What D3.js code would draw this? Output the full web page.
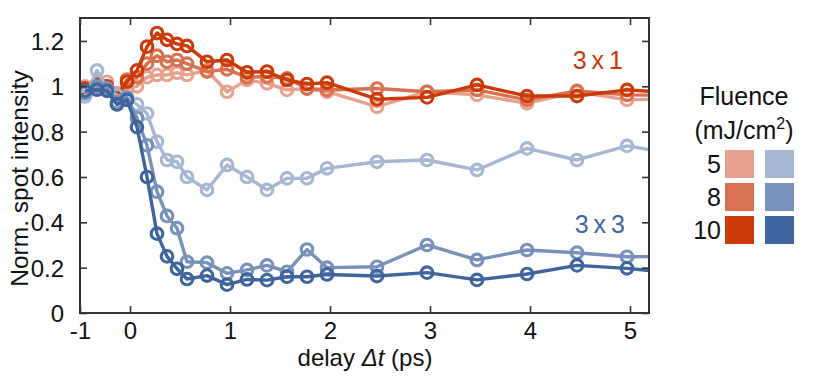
<!DOCTYPE html>
<html><head><meta charset="utf-8">
<script src="https://cdn.jsdelivr.net/npm/d3@7"></script>
<style>
html,body{margin:0;padding:0;background:#fff;}
svg{display:block;font-family:"Liberation Sans",Arial,sans-serif;}
</style></head>
<body><svg id="c" width="830" height="376"></svg>
<script>
// ---- data ----
const delays = [-0.9,-0.66,-0.46,-0.26,-0.06,0.07,0.17,0.27,0.37,0.47,0.57,0.77,0.97,1.17,1.37,1.57,1.77,1.97,2.47,2.97,3.47,3.97,4.47,4.97,5.47];
const red5  = [1.0,1.0,1.02,0.97,0.99,1.0,1.04,1.05,1.05,1.06,1.05,1.07,0.976,1.028,1.013,0.984,0.99,0.976,0.91,0.976,0.962,0.925,0.976,0.94,0.945];
const red8  = [0.99,1.0,1.0,0.96,1.03,1.04,1.10,1.135,1.108,1.116,1.10,1.065,1.075,1.04,1.043,1.035,0.99,0.984,0.99,0.976,0.984,0.94,0.98,0.962,0.96];
const red10 = [0.99,1.01,1.0,0.955,1.02,1.07,1.175,1.235,1.205,1.187,1.178,1.108,1.116,1.062,1.065,1.028,1.01,1.016,0.943,0.951,1.006,0.957,0.957,0.984,0.97];
const blue5  = [0.955,1.07,0.99,0.96,0.95,0.92,0.88,0.756,0.675,0.667,0.60,0.543,0.653,0.60,0.543,0.594,0.594,0.638,0.667,0.675,0.631,0.726,0.675,0.737,0.70];
const blue8  = [0.97,1.0,0.99,0.93,0.95,0.86,0.74,0.535,0.428,0.374,0.226,0.222,0.175,0.19,0.21,0.182,0.28,0.20,0.204,0.30,0.234,0.278,0.266,0.248,0.25];
const blue10 = [0.98,0.985,0.98,0.92,0.94,0.82,0.60,0.35,0.25,0.195,0.15,0.165,0.125,0.148,0.145,0.16,0.16,0.17,0.163,0.178,0.146,0.172,0.21,0.197,0.175];
const fluences = ["5","8","10"];
const xTicks = [-1,0,1,2,3,4,5];
const xTickLabels = ["-1","0","1","2","3","4","5"];
const yTicks = [0,0.2,0.4,0.6,0.8,1,1.2];
const yTickLabels = ["0","0.2","0.4","0.6","0.8","1","1.2"];
const redColors  = ["#e8a18c","#d97050","#cc3a0a"];
const blueColors = ["#a5b7d3","#7791bb","#3f659e"];

// ---- layout ----
const L=80, R=649, T=18, B=313;
const svg = d3.select("#c");
const x = d3.scaleLinear().domain([-1,0,5.2]).range([L,130,650]);
const y = d3.scaleLinear().domain([0,1.3]).range([B,B-1.3*226.7]);

svg.append("defs").append("clipPath").attr("id","clip")
  .append("rect").attr("x",L).attr("y",T).attr("width",R-L).attr("height",B-T);

const series = [
  {v:red5,c:redColors[0]},{v:red8,c:redColors[1]},{v:red10,c:redColors[2]},
  {v:blue5,c:blueColors[0]},{v:blue8,c:blueColors[1]},{v:blue10,c:blueColors[2]}
];
const g = svg.append("g").attr("clip-path","url(#clip)");
const line = d3.line().x((d,i)=>x(delays[i])).y(d=>y(d));
series.forEach(s=>{
  const sg = g.append("g");
  sg.append("path").datum(s.v).attr("d",line).attr("fill","none")
    .attr("stroke",s.c).attr("stroke-width",3.4).attr("stroke-linejoin","round");
  sg.selectAll("circle").data(s.v).join("circle")
    .attr("cx",(d,i)=>x(delays[i])).attr("cy",d=>y(d)).attr("r",5.8)
    .attr("fill","none").attr("stroke",s.c).attr("stroke-width",3.1);
});

// ---- axes (inward ticks on all sides) ----
const ax = "#333";
const fs = 24;
const xb = svg.append("g").attr("transform",`translate(0,${B})`)
  .call(d3.axisBottom(x).tickValues(xTicks).tickSizeInner(-7).tickSizeOuter(0).tickPadding(9).tickFormat((d,i)=>xTickLabels[i]));
const xt = svg.append("g").attr("transform",`translate(0,${T})`)
  .call(d3.axisTop(x).tickValues(xTicks).tickSizeInner(-7).tickSizeOuter(0).tickFormat(""));
const yl = svg.append("g").attr("transform",`translate(${L},0)`)
  .call(d3.axisLeft(y).tickValues(yTicks).tickSizeInner(-7).tickSizeOuter(0).tickPadding(16).tickFormat((d,i)=>yTickLabels[i]));
const yr = svg.append("g").attr("transform",`translate(${R},0)`)
  .call(d3.axisRight(y).tickValues(yTicks).tickSizeInner(-7).tickSizeOuter(0).tickFormat(""));
[xb,xt,yl,yr].forEach(a=>{
  a.select(".domain").remove();
  a.selectAll("line").attr("stroke",ax).attr("stroke-width",1.6);
  a.selectAll("text").attr("font-size",fs).attr("fill","#111").attr("font-family","Liberation Sans, Arial, sans-serif");
});
yl.selectAll("text").attr("dy","0.36em");
svg.append("rect").attr("x",L).attr("y",T).attr("width",R-L).attr("height",B-T)
  .attr("fill","none").attr("stroke",ax).attr("stroke-width",2);

// ---- titles ----
const xl = svg.append("text").attr("x",365).attr("y",366).attr("text-anchor","middle")
  .attr("font-size",fs).attr("fill","#111");
xl.append("tspan").text("delay ");
xl.append("tspan").attr("font-style","italic").text("Δt");
xl.append("tspan").text(" (ps)");
svg.append("text").attr("transform",`translate(28,${(T+B)/2+13}) rotate(-90)`)
  .attr("text-anchor","middle").attr("font-size",fs+0.5).attr("fill","#111").text("Norm. spot intensity");

// annotations
svg.append("text").attr("x",623).attr("y",69).attr("text-anchor","end").attr("font-size",25)
  .attr("fill",redColors[2]).text("3\u2009x\u20091");
svg.append("text").attr("x",625).attr("y",233).attr("text-anchor","end").attr("font-size",25)
  .attr("fill",blueColors[2]).text("3\u2009x\u20093");

// ---- legend ----
const lfs = 25;
svg.append("text").attr("x",744).attr("y",105).attr("text-anchor","middle").attr("font-size",lfs).attr("fill","#111").text("Fluence");
const lu = svg.append("text").attr("x",744).attr("y",139).attr("text-anchor","middle").attr("font-size",lfs).attr("fill","#111");
lu.append("tspan").text("(mJ/cm");
lu.append("tspan").attr("font-size",16).attr("dy",-10).text("2");
lu.append("tspan").attr("dy",10).text(")");
fluences.forEach((f,i)=>{
  const yy = 150 + i*33;
  svg.append("text").attr("x",721).attr("y",yy+23).attr("text-anchor","end").attr("font-size",lfs).attr("fill","#111").text(f);
  svg.append("rect").attr("x",725).attr("y",yy).attr("width",29).attr("height",28).attr("fill",redColors[i]);
  svg.append("rect").attr("x",765).attr("y",yy).attr("width",29).attr("height",28).attr("fill",blueColors[i]);
});
</script></body></html>
